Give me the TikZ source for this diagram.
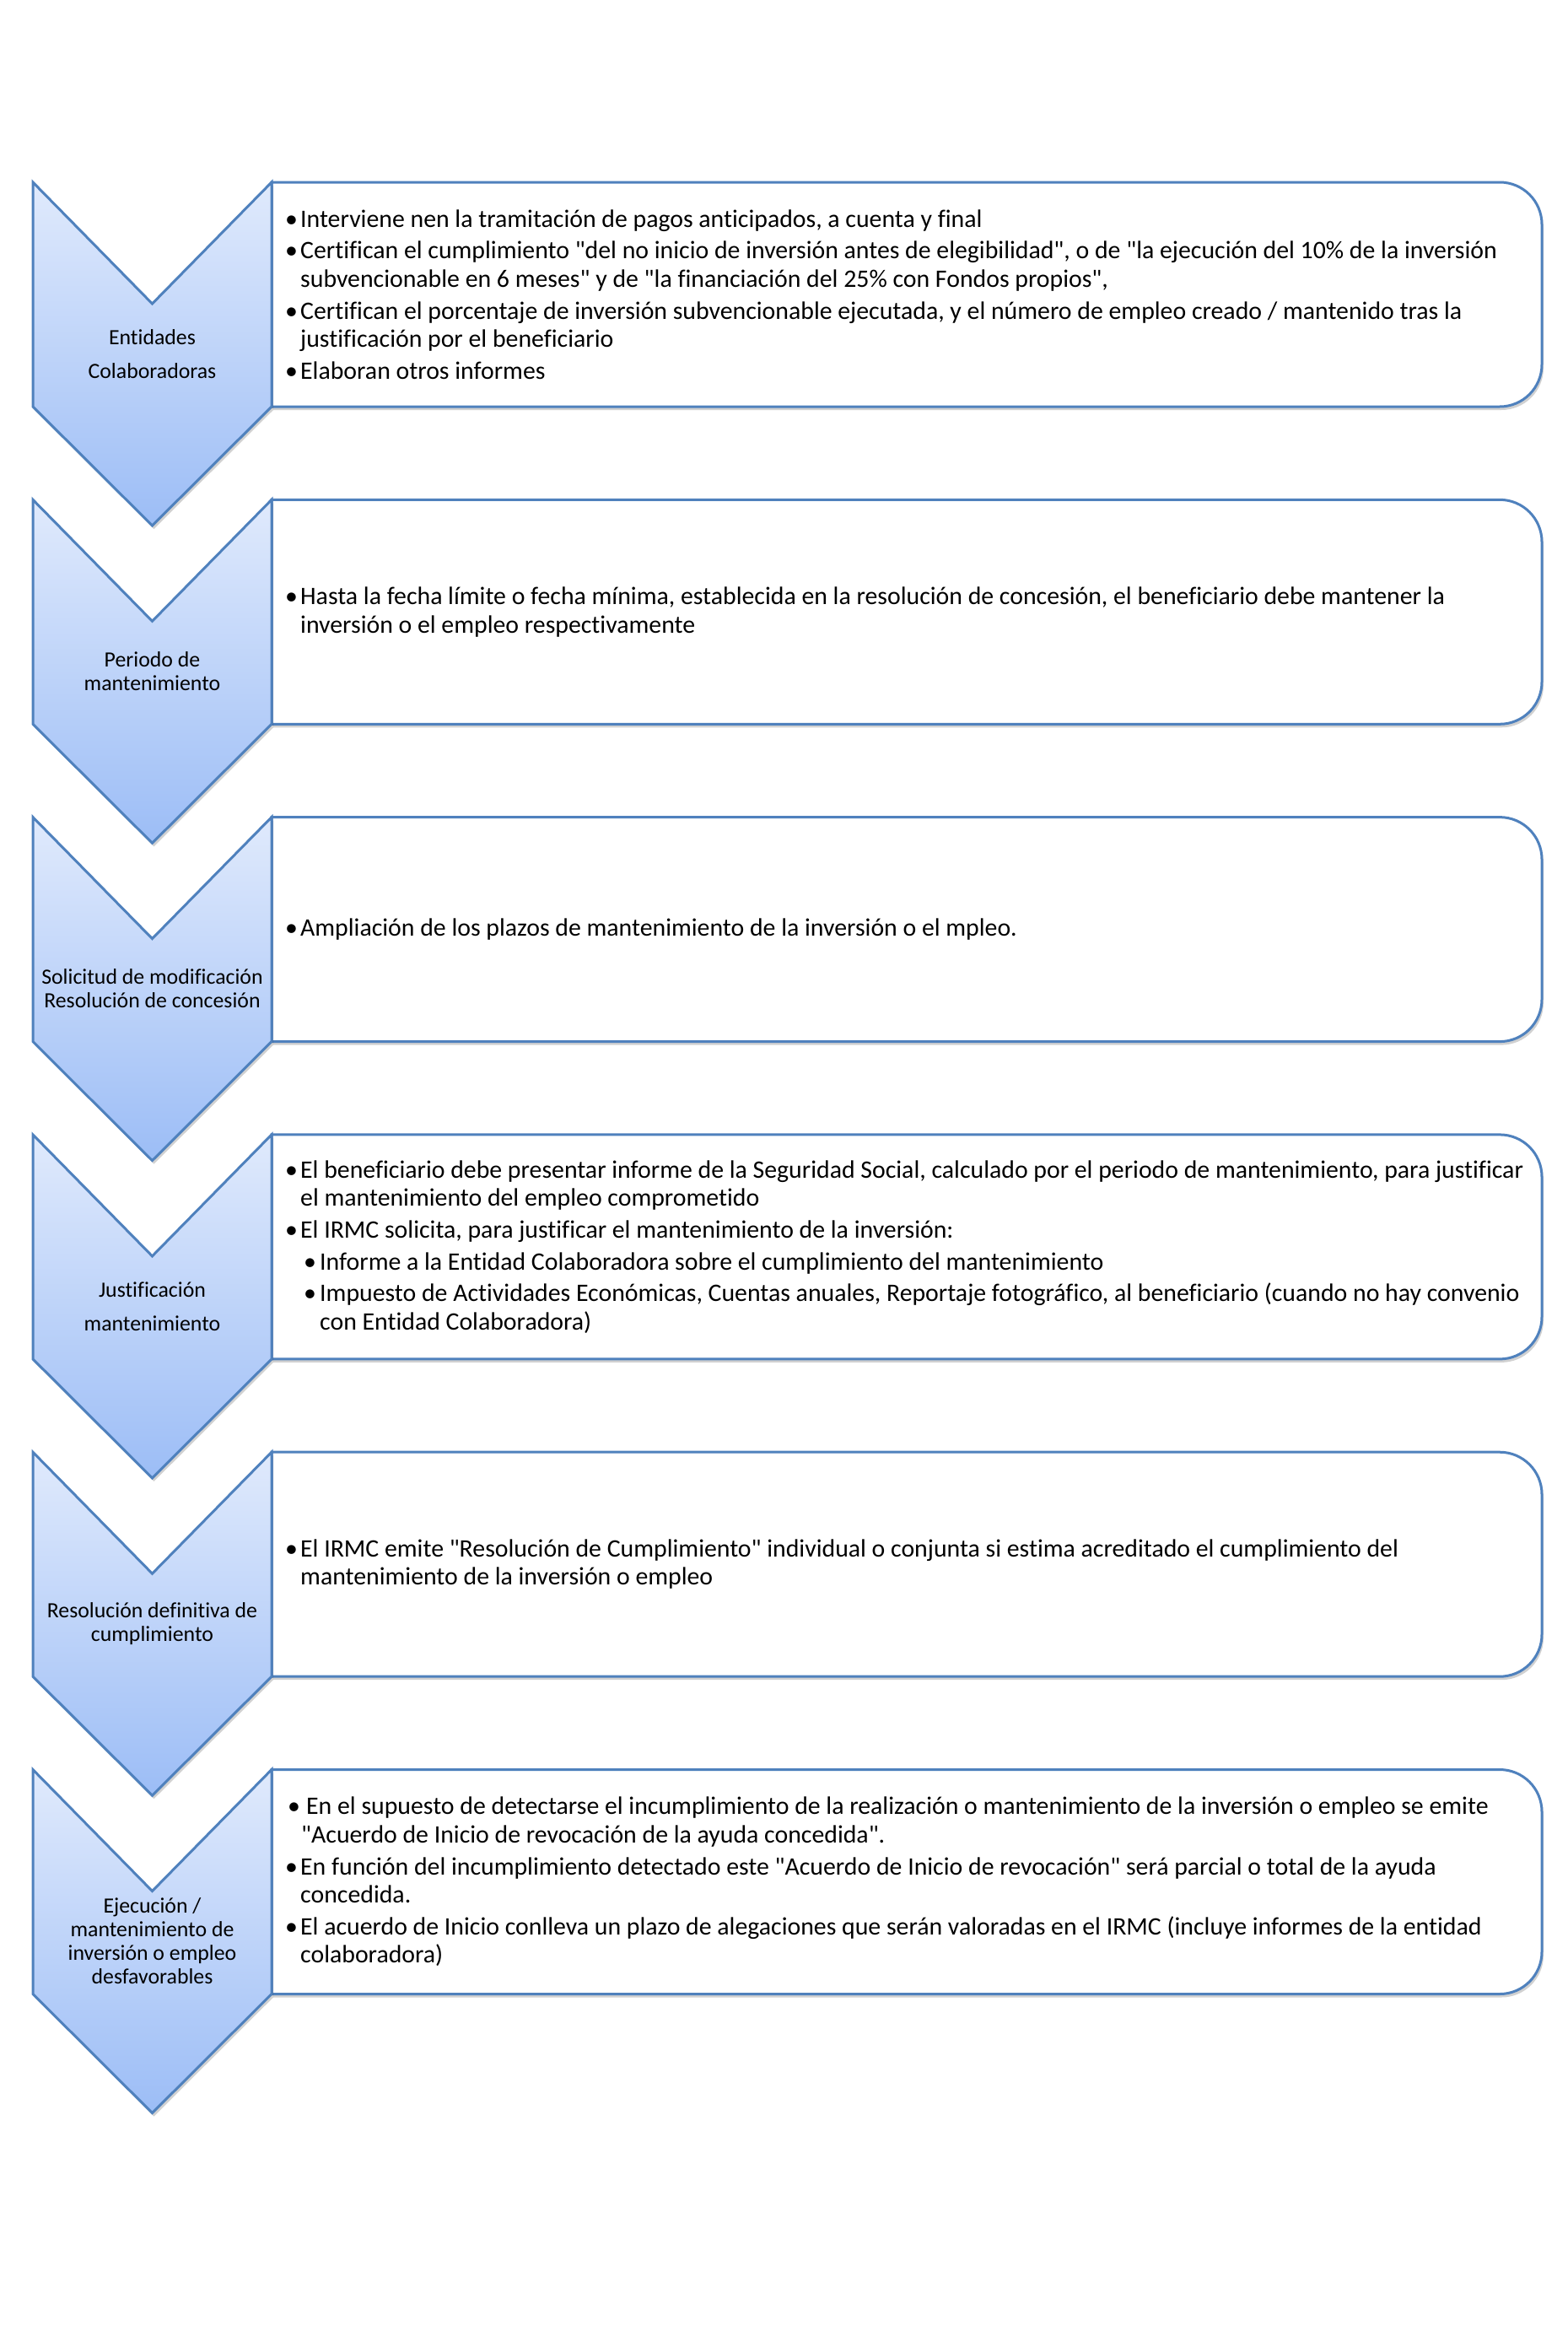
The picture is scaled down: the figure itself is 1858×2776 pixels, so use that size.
\documentclass[tikz,border=0pt]{standalone}
\usepackage{fontspec}
\setmainfont{Carlito}[Ligatures={TeXOff,CommonOff}]
\usetikzlibrary{shadows}
\definecolor{chevline}{RGB}{79,129,189}
\definecolor{chevtop}{RGB}{224,234,252}
\definecolor{chevbot}{RGB}{156,189,246}
\tikzset{
  chevshape/.style={draw=chevline, line width=3pt, line join=miter, top color=chevtop, bottom color=chevbot,
    drop shadow={shadow xshift=2pt, shadow yshift=-4pt, opacity=0.18, fill=black}},
  boxshape/.style={draw=chevline, line width=3pt, fill=white,
    drop shadow={shadow xshift=2pt, shadow yshift=-4pt, opacity=0.18, fill=black}},
  lbl/.style={inner sep=0pt, align=center, text=black},
  txt/.style={inner sep=0pt, align=left, anchor=west, text=black, font=\fontsize{29.8}{33.6}\selectfont}
}
\newcommand{\bl}{\makebox[14pt][l]{\hspace*{-4pt}\textbullet}}
\newcommand{\cl}{\hspace*{14pt}}
\newcommand{\sbl}{\hspace*{21pt}\makebox[16pt][l]{\hspace*{-3pt}\textbullet}}
\newcommand{\scl}{\hspace*{37pt}}
\newcommand{\stage}[4]{%
  \pgfmathsetmacro{\stT}{216+376.3*(#1-1)}%
  \pgfmathsetmacro{\stN}{\stT+144}%
  \pgfmathsetmacro{\stB}{\stT+266}%
  \pgfmathsetmacro{\stP}{\stT+407}%
  \pgfmathsetmacro{\stM}{\stT+133}%
  \pgfmathsetmacro{\stL}{\stT+203.5}%
  \pgfmathsetmacro{\stBr}{\stB-50}%
  \draw[boxshape] (322,\stT) -- (1778,\stT) arc (90:0:50pt) -- (1828,\stBr) arc (0:-90:50pt) -- (322,\stB) -- cycle;
  \draw[chevshape] (39,\stT) -- (180.5,\stN) -- (322,\stT) -- (322,\stB) -- (180.5,\stP) -- (39,\stB) -- cycle;
  \node[lbl, font=#3] (c#1) at (180.5,\stL) {#2};
  \node[txt] (t#1) at (342,\stM) {#4};
}
\begin{document}
\begin{tikzpicture}[x=1pt,y=-1pt]
\useasboundingbox (0,0) rectangle (1858,2776);
\fill[white] (0,0) rectangle (1858,2776);

\stage{1}{Entidades\\Colaboradoras}{\fontsize{25.8}{40}\selectfont}{%
\bl Interviene nen la tramitación de pagos anticipados, a cuenta y final\\[4pt]
\bl Certifican el cumplimiento "del no inicio de inversión antes de elegibilidad", o de "la ejecución del 10\% de la inversión\\
\cl subvencionable en 6 meses" y de "la financiación del 25\% con Fondos propios",\\[4pt]
\bl Certifican el porcentaje de inversión subvencionable ejecutada, y el número de empleo creado / mantenido tras la\\
\cl justificación por el beneficiario\\[4pt]
\bl Elaboran otros informes}

\stage{2}{Periodo de\\mantenimiento}{\fontsize{25.8}{28}\selectfont}{%
\bl Hasta la fecha límite o fecha mínima, establecida en la resolución de concesión, el beneficiario debe mantener la\\
\cl inversión o el empleo respectivamente}

\stage{3}{Solicitud de modificación\\Resolución de concesión}{\fontsize{25.8}{28}\selectfont}{%
\bl Ampliación de los plazos de mantenimiento de la inversión o el mpleo.}

\stage{4}{Justificación\\mantenimiento}{\fontsize{25.8}{40}\selectfont}{%
\bl El beneficiario debe presentar informe de la Seguridad Social, calculado por el periodo de mantenimiento, para justificar\\
\cl el mantenimiento del empleo comprometido\\[4pt]
\bl El IRMC solicita, para justificar el mantenimiento de la inversión:\\[4pt]
\sbl Informe a la Entidad Colaboradora sobre el cumplimiento del mantenimiento\\[4pt]
\sbl Impuesto de Actividades Económicas, Cuentas anuales, Reportaje fotográfico, al beneficiario (cuando no hay convenio\\
\scl con Entidad Colaboradora)}

\stage{5}{Resolución definitiva de\\cumplimiento}{\fontsize{25.8}{28}\selectfont}{%
\bl El IRMC emite "Resolución de Cumplimiento" individual o conjunta si estima acreditado el cumplimiento del\\
\cl mantenimiento de la inversión o empleo}

\stage{6}{Ejecución /\\mantenimiento de\\inversión o empleo\\desfavorables}{\fontsize{25.8}{28}\selectfont}{%
\makebox[21pt][l]{\hspace*{-1pt}\textbullet}En el supuesto de detectarse el incumplimiento de la realización o mantenimiento de la inversión o empleo se emite\\
\hspace*{15pt}"Acuerdo de Inicio de revocación de la ayuda concedida".\\[4pt]
\bl En función del incumplimiento detectado este "Acuerdo de Inicio de revocación" será parcial o total de la ayuda\\
\cl concedida.\\[4pt]
\bl El acuerdo de Inicio conlleva un plazo de alegaciones que serán valoradas en el IRMC (incluye informes de la entidad\\
\cl colaboradora)}
\end{tikzpicture}
\end{document}
